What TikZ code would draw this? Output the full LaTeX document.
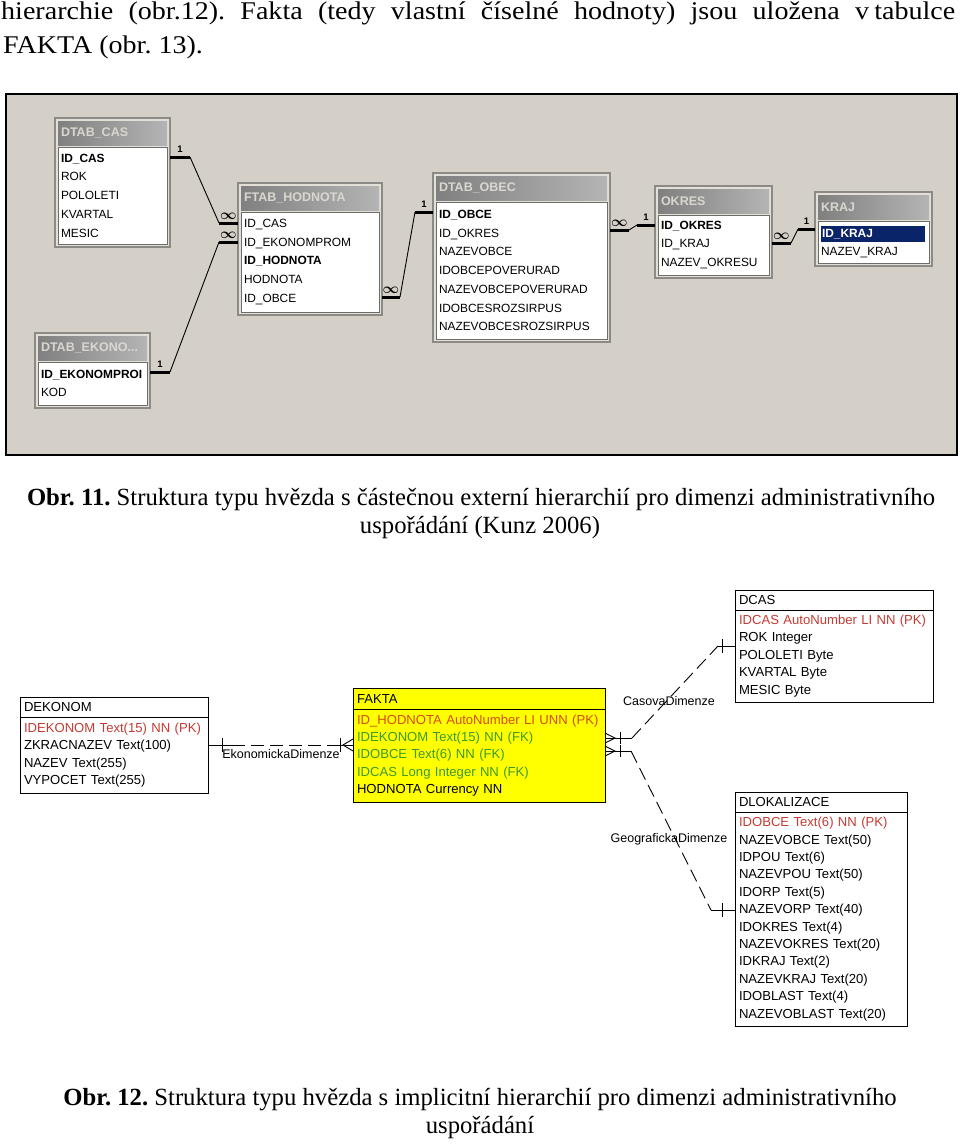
\documentclass[tikz,border=0pt]{standalone}
\usepackage{fontspec}
\setmainfont{Liberation Serif}
\newfontfamily\odstfont{Liberation Serif}[FakeStretch=1.1]
\setsansfont{Liberation Sans}
\usetikzlibrary{positioning}
\frenchspacing

\definecolor{panelbg}{HTML}{D4D0C8}
\definecolor{framebg}{HTML}{E2DFD9}
\definecolor{frameln}{HTML}{8C8A85}
\definecolor{listln}{HTML}{6E6C68}
\definecolor{titleL}{HTML}{808080}
\definecolor{titleR}{HTML}{B4B4B4}
\definecolor{titletx}{HTML}{DAD7D1}
\definecolor{selrow}{HTML}{0A246A}
\definecolor{pkred}{HTML}{C43A32}
\definecolor{pkfakta}{HTML}{D84A10}
\definecolor{fkgreen}{HTML}{3C9A2C}
\definecolor{faktayel}{HTML}{FFFF00}

\newcommand\acctitle{\sffamily\bfseries\fontsize{12.5}{14}\selectfont}
\newcommand\acclist{\sffamily\fontsize{11.9}{18.7}\selectfont}
\newcommand\erdfont{\sffamily\fontsize{13.1}{17.4}\selectfont}

\begin{document}
\begin{tikzpicture}[x=1pt, y=-1pt,
    odst/.style={font=\odstfont\fontsize{25.5}{28}\selectfont, inner sep=0pt},
    txt/.style={font=\fontsize{24.7}{28}\selectfont, inner sep=0pt},
    frame/.style={draw=frameln, fill=framebg, line width=1.2pt, anchor=north west, inner sep=0pt, outer sep=0pt},
    ttl/.style={anchor=north west, left color=titleL, right color=titleR, text=titletx, font=\acctitle, text width=#1, minimum height=24pt, inner sep=3pt, outer sep=0pt, align=left},
    lst/.style={anchor=north west, fill=white, draw=listln, line width=1pt, font=\acclist, text width=#1, inner sep=3pt, outer sep=0pt, align=left},
    stub/.style={line width=3pt},
    vazba/.style={line width=0.9pt},
    jedna/.style={font=\sffamily\bfseries\fontsize{9.5}{10}\selectfont, inner sep=0.5pt},
    mnoho/.style={font=\boldmath\fontsize{15}{15}\selectfont, inner sep=0pt},
    erdH/.style={draw, line width=1pt, anchor=north west, text width=#1, inner xsep=4pt, inner ysep=3pt, outer sep=0pt, minimum height=20pt, font=\erdfont, align=left},
    erdB/.style={draw, line width=1pt, anchor=north west, text width=#1, inner xsep=4pt, inner ysep=3pt, outer sep=0pt, font=\erdfont, align=left},
    erdline/.style={line width=0.9pt},
    erddash/.style={line width=0.9pt, dash pattern=on 13pt off 6pt},
    erdlbl/.style={font=\sffamily\fontsize{12.5}{14}\selectfont, inner sep=0pt}
]
\useasboundingbox (0,0) rectangle (960,1144);

% text nad obrazkem
\node[odst, anchor=base west] (odst1) at (1,19) {\makebox[954pt][s]{hierarchie (obr.12). Fakta (tedy vlastní číselné hodnoty) jsou uložena v\hspace{0.2em}tabulce}};
\node[odst, anchor=base west] (odst2) at (3,53) {FAKTA (obr. 13).};

% obr. 11 - relace v Accessu
\draw[line width=2.2pt, fill=panelbg] (6,94) rectangle (957,455);

\node[frame, minimum width=115pt, minimum height=129pt] (casF) at (55,118) {};
\node[ttl=103pt] (casT) at ([shift={(3,3)}]casF.north west) {DTAB\_CAS};
\node[lst=103pt, minimum height=97pt, below=2pt of casT.south west, anchor=north west] (casL) {\textbf{ID\_CAS}\\ROK\\POLOLETI\\KVARTAL\\MESIC};

\node[frame, minimum width=144pt, minimum height=132pt] (hodF) at (238,183) {};
\node[ttl=132pt] (hodT) at ([shift={(3,3)}]hodF.north west) {FTAB\_HODNOTA};
\node[lst=132pt, minimum height=100pt, below=2pt of hodT.south west, anchor=north west] (hodL) {ID\_CAS\\ID\_EKONOMPROM\\\textbf{ID\_HODNOTA}\\HODNOTA\\ID\_OBCE};

\node[frame, minimum width=115pt, minimum height=75pt] (ekoF) at (35,333) {};
\node[ttl=103pt] (ekoT) at ([shift={(3,3)}]ekoF.north west) {DTAB\_EKONO...};
\node[lst=103pt, minimum height=43pt, below=2pt of ekoT.south west, anchor=north west] (ekoL) {\textbf{ID\_EKONOMPROI}\\KOD};

\node[frame, minimum width=177pt, minimum height=169pt] (obecF) at (433,173) {};
\node[ttl=165pt] (obecT) at ([shift={(3,3)}]obecF.north west) {DTAB\_OBEC};
\node[lst=165pt, minimum height=137pt, below=2pt of obecT.south west, anchor=north west] (obecL) {\textbf{ID\_OBCE}\\ID\_OKRES\\NAZEVOBCE\\IDOBCEPOVERURAD\\NAZEVOBCEPOVERURAD\\IDOBCESROZSIRPUS\\NAZEVOBCESROZSIRPUS};

\node[frame, minimum width=117pt, minimum height=92pt] (okresF) at (655,186) {};
\node[ttl=105pt] (okresT) at ([shift={(3,3)}]okresF.north west) {OKRES};
\node[lst=105pt, minimum height=60pt, below=2pt of okresT.south west, anchor=north west] (okresL) {\textbf{ID\_OKRES}\\ID\_KRAJ\\NAZEV\_OKRESU};

\node[frame, minimum width=117pt, minimum height=74pt] (krajF) at (815,192) {};
\node[ttl=105pt] (krajT) at ([shift={(3,3)}]krajF.north west) {KRAJ};
\node[lst=105pt, minimum height=42pt, below=2pt of krajT.south west, anchor=north west] (krajL) {{\fboxsep=0pt\colorbox{selrow}{\makebox[104pt][l]{\rule[-4.5pt]{0pt}{16pt}\hspace{1pt}\textcolor{white}{\textbf{ID\_KRAJ}}}}}\\NAZEV\_KRAJ};

% vazby
\draw[stub] (casF.east |- 0,157) -- ++(20,0) node[jedna, midway, above=3pt] {1} coordinate (v1a);
\draw[stub] (hodF.west |- 0,223) -- ++(-19,0) node[mnoho, midway, above=2pt] {$\infty$} coordinate (v1b);
\draw[vazba] (v1a) -- (v1b);

\draw[stub] (ekoF.east |- 0,372) -- ++(20,0) node[jedna, midway, above=3pt] {1} coordinate (v2a);
\draw[stub] (hodF.west |- 0,242) -- ++(-19,0) node[mnoho, midway, above=2pt] {$\infty$} coordinate (v2b);
\draw[vazba] (v2a) -- (v2b);

\draw[stub] (hodF.east |- 0,297) -- ++(18,0) node[mnoho, midway, above=2pt] {$\infty$} coordinate (v3a);
\draw[stub] (obecF.west |- 0,212) -- ++(-18,0) node[jedna, midway, above=3pt] {1} coordinate (v3b);
\draw[vazba] (v3a) -- (v3b);

\draw[stub] (obecF.east |- 0,230) -- ++(19,0) node[mnoho, midway, above=2pt] {$\infty$} coordinate (v4a);
\draw[stub] (okresF.west |- 0,225) -- ++(-18,0) node[jedna, midway, above=3pt] {1} coordinate (v4b);
\draw[vazba] (v4a) -- (v4b);

\draw[stub] (okresF.east |- 0,243) -- ++(19,0) node[mnoho, midway, above=2pt] {$\infty$} coordinate (v5a);
\draw[stub] (krajF.west |- 0,229) -- ++(-17,0) node[jedna, midway, above=3pt] {1} coordinate (v5b);
\draw[vazba] (v5a) -- (v5b);

\node[txt, anchor=base] (obr11a) at (481,505) {\textbf{Obr. 11.} Struktura typu hvězda s částečnou externí hierarchií pro dimenzi administrativního};
\node[txt, anchor=base] (obr11b) at (480,533) {uspořádání (Kunz 2006)};

% obr. 12 - ER diagram
\node[erdH=180pt] (dekH) at (20,697) {DEKONOM};
\node[erdB=180pt, minimum height=76pt] (dekB) at (dekH.south west) {\textcolor{pkred}{IDEKONOM Text(15) NN (PK)}\\ZKRACNAZEV Text(100)\\NAZEV Text(255)\\VYPOCET Text(255)};

\node[erdH=244pt, fill=faktayel, minimum height=21pt] (faktaH) at (353,688) {FAKTA};
\node[erdB=244pt, fill=faktayel, minimum height=93pt] (faktaB) at (faktaH.south west) {\textcolor{pkfakta}{ID\_HODNOTA AutoNumber LI UNN (PK)}\\\textcolor{fkgreen}{IDEKONOM Text(15) NN (FK)}\\\textcolor{fkgreen}{IDOBCE Text(6) NN (FK)}\\\textcolor{fkgreen}{IDCAS Long Integer NN (FK)}\\HODNOTA Currency NN};

\node[erdH=190pt] (dcasH) at (735,590) {DCAS};
\node[erdB=190pt, minimum height=92pt] (dcasB) at (dcasH.south west) {\textcolor{pkred}{IDCAS AutoNumber LI NN (PK)}\\ROK Integer\\POLOLETI Byte\\KVARTAL Byte\\MESIC Byte};

\node[erdH=164pt] (dlokH) at (735,792) {DLOKALIZACE};
\node[erdB=164pt, minimum height=214pt] (dlokB) at (dlokH.south west) {\textcolor{pkred}{IDOBCE Text(6) NN (PK)}\\NAZEVOBCE Text(50)\\IDPOU Text(6)\\NAZEVPOU Text(50)\\IDORP Text(5)\\NAZEVORP Text(40)\\IDOKRES Text(4)\\NAZEVOKRES Text(20)\\IDKRAJ Text(2)\\NAZEVKRAJ Text(20)\\IDOBLAST Text(4)\\NAZEVOBLAST Text(20)};

% EkonomickaDimenze
\coordinate (ekoA) at (dekB.east |- 0,745);
\coordinate (ekoB) at (faktaB.west |- 0,745);
\draw[erdline] (ekoA) -- ++(24,0) coordinate (ekoA2);
\draw[erdline] (ekoB) -- ++(-21,0) coordinate (ekoB2);
\draw[erddash] (ekoA2) -- (ekoB2);
\draw[erdline] ([shift={(14,-7)}]ekoA) -- ++(0,14);
\draw[erdline] ([shift={(-13,-7)}]ekoB) -- ++(0,14);
\draw[erdline] ([yshift=6pt]ekoB) -- ([xshift=-10pt]ekoB) -- ([yshift=-6pt]ekoB);
\node[erdlbl] (ekoLbl) at (281,754) {EkonomickaDimenze};

% CasovaDimenze
\coordinate (casA) at (faktaB.east |- 0,738);
\coordinate (casB) at (dcasB.west |- 0,646);
\draw[erdline] (casA) -- ++(27,0) coordinate (casA2);
\draw[erdline] (casB) -- ++(-17,0) coordinate (casB2);
\draw[erddash] (casA2) -- (casB2);
\draw[erdline] ([shift={(15,-6)}]casA) -- ++(0,12);
\draw[erdline] ([shift={(-13,-7)}]casB) -- ++(0,14);
\draw[erdline] ([yshift=5pt]casA) -- ([xshift=10pt]casA) -- ([yshift=-5pt]casA);
\node[erdlbl] (casLbl) at (669,701) {CasovaDimenze};

% GeografickaDimenze
\coordinate (geoA) at (faktaB.east |- 0,751);
\coordinate (geoB) at (dlokB.west |- 0,910);
\draw[erdline] (geoA) -- ++(26,0) coordinate (geoA2);
\draw[erdline] (geoB) -- ++(-24,0) coordinate (geoB2);
\draw[erddash] (geoA2) -- (geoB2);
\draw[erdline] ([shift={(15,-6)}]geoA) -- ++(0,12);
\draw[erdline] ([shift={(-13,-7)}]geoB) -- ++(0,14);
\draw[erdline] ([yshift=5pt]geoA) -- ([xshift=10pt]geoA) -- ([yshift=-5pt]geoA);
\node[erdlbl] (geoLbl) at (669,839) {GeografickaDimenze};

\node[txt, anchor=base] (obr12a) at (480,1105) {\textbf{Obr. 12.} Struktura typu hvězda s implicitní hierarchií pro dimenzi administrativního};
\node[txt, anchor=base] (obr12b) at (480,1133) {uspořádání};
\end{tikzpicture}
\end{document}
